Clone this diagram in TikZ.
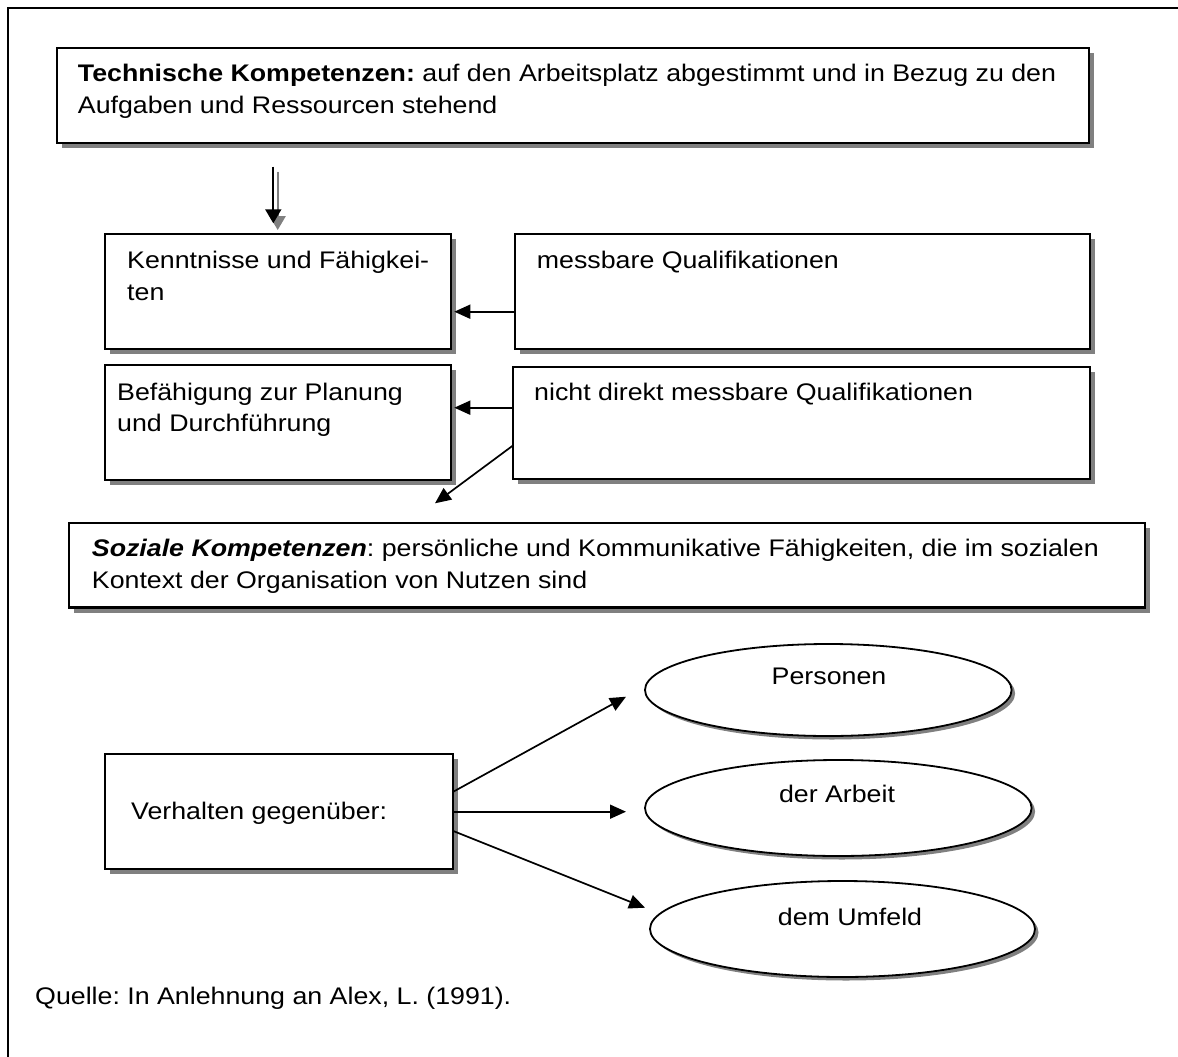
\documentclass[tikz,border=0pt]{standalone}
\usepackage{fontspec}
\setmainfont{Liberation Sans}[FakeStretch=1.115]
\usetikzlibrary{arrows.meta,shapes.geometric,shadows,calc}
\frenchspacing

\begin{document}
\begin{tikzpicture}[x=1pt,y=-1pt,
  font=\fontsize{24}{31.6}\selectfont,
  frame/.style={line width=2.2pt},
  box/.style={draw, line width=2.2pt, fill=white, rectangle, anchor=north west,
    inner sep=0pt, outer sep=0pt,
    drop shadow={shadow xshift=5pt, shadow yshift=-5pt, fill=black!50, opacity=1}},
  oval/.style={draw, line width=1.8pt, fill=white, ellipse, inner sep=0pt,
    drop shadow={shadow xshift=3.5pt, shadow yshift=-3.5pt, fill=black!50, opacity=1}},
  txt/.style={anchor=north west, inner sep=0pt, align=left},
  btxt/.style={anchor=base west, inner sep=0pt},
  ctxt/.style={anchor=base, inner sep=0pt},
  arr/.style={line width=1.7pt, -{Triangle[length=16pt,width=14pt]}},
  darr/.style={line width=1.7pt, -{Triangle[length=14pt,width=16pt]}}]

\useasboundingbox (0,0) rectangle (1178,1057);

% page frame (top and left rules)
\draw[frame] (8,1060) -- (8,8) -- (1180,8);

% boxes
\node[box, minimum width=1032.3pt, minimum height=95.6pt] (b1) at (56.7,47.7) {};
\node[box, minimum width=345.7pt, minimum height=115.3pt] (b2) at (105,234) {};
\node[box, minimum width=575pt, minimum height=115.3pt] (b3) at (515,234) {};
\node[box, minimum width=345.7pt, minimum height=115pt] (b4) at (105,365) {};
\node[box, minimum width=577.3pt, minimum height=112.6pt] (b5) at (512.7,366.7) {};
\node[box, minimum width=1076pt, minimum height=84.2pt] (b6) at (69,523.3) {};
\node[box, minimum width=348.3pt, minimum height=115pt] (b7) at (105,754) {};

% ellipses
\node[oval, minimum width=366.6pt, minimum height=92pt] (e1) at (828.3,690) {};
\node[oval, minimum width=386.6pt, minimum height=96pt] (e2) at (838.3,808) {};
\node[oval, minimum width=385pt, minimum height=96pt] (e3) at (842.5,929) {};

% texts
\node[txt] (t1) at (77.7,59.6) {\strut\textbf{Technische Kompetenzen:} auf den Arbeitsplatz abgestimmt und in Bezug zu den\\\strut Aufgaben und Ressourcen stehend};
\node[txt] (t2) at (127,246.2) {\strut Kenntnisse und Fähigkei-\\\strut ten};
\node[txt] (t3) at (536.7,246.2) {\strut messbare Qualifikationen};
\node[txt] (t4) at (117,377.9) {\strut Befähigung zur Planung\\\strut und Durchführung};
\node[txt] (t5) at (534,378.6) {\strut nicht direkt messbare Qualifikationen};
\node[txt] (t6) at (91.7,534.6) {\strut\textbf{\textit{Soziale Kompetenzen}}: persönliche und Kommunikative Fähigkeiten, die im sozialen\\\strut Kontext der Organisation von Nutzen sind};
\node[btxt] (t7) at (131,819) {Verhalten gegenüber:};
\node[ctxt] (p1) at (829,684) {Personen};
\node[ctxt] (p2) at (837,802) {der Arbeit};
\node[ctxt] (p3) at (850,925) {dem Umfeld};
\node[btxt] (src) at (35,1004) {Quelle: In Anlehnung an Alex, L. (1991).};

% connector ends
\coordinate (d1) at (273.3,166.7);
\coordinate (d2) at (273.3,223.3);
\coordinate (r1) at (0,311.7);
\coordinate (r2) at (0,407.7);
\coordinate (s1) at (0,445.7);
\coordinate (s2) at (435,503.3);
\coordinate (v1) at (0,791.7);
\coordinate (v2) at (0,811.7);
\coordinate (v3) at (0,831);
\coordinate (w1) at (626,696.7);
\coordinate (w2) at (626,811.7);
\coordinate (w3) at (645,907.7);

% down arrow with its shadow
\draw[darr, draw=black!50, fill=black!50] ($(d1)+(4.4,5)$) -- ($(d2)+(4.4,6.7)$);
\draw[darr] (d1) -- (d2);

% arrows between boxes
\draw[arr] (b3.west |- r1) -- ($(b2.east |- r1)+(3.6,0)$);
\draw[arr] (b5.west |- r2) -- ($(b4.east |- r2)+(3.6,0)$);
\draw[arr] (b5.west |- s1) -- (s2);

% arrows towards the ellipses
\draw[arr] (b7.east |- v1) -- (w1);
\draw[arr] (b7.east |- v2) -- (w2);
\draw[arr] (b7.east |- v3) -- (w3);
\end{tikzpicture}
\end{document}
